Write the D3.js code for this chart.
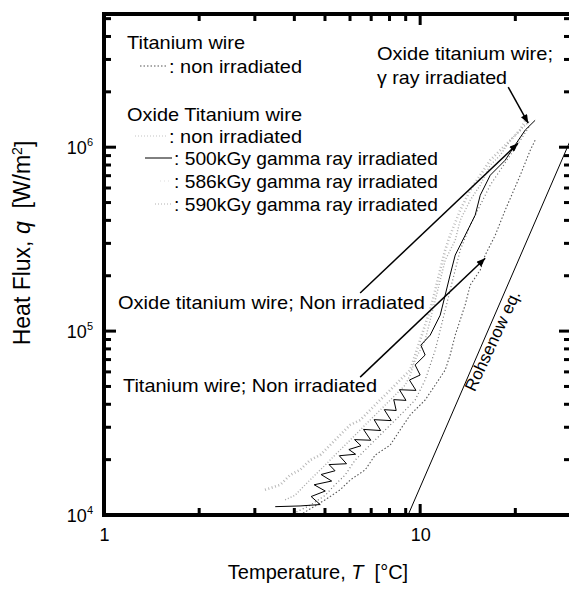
<!DOCTYPE html>
<html>
<head>
<meta charset="utf-8">
<script src="https://cdnjs.cloudflare.com/ajax/libs/d3/7.8.5/d3.min.js"></script>
<style>
body{margin:0;background:#fff;}
svg{display:block;font-family:"Liberation Sans",Arial,sans-serif;}
</style>
</head>
<body>
<svg id="chart"></svg>
<script>
//Data: T [degC], q [W/m2]
const tiNonT  = [4.17, 5.01, 5.58, 6.01, 6.70, 7.21, 8.04, 8.64, 9.30, 10.37, 11.16, 12.0, 12.44, 12.91, 13.88, 14.4, 15.49, 16.06, 17.28, 18.58, 20.73, 22.3, 23.1];
const tiNonQ  = [1.0e4, 1.21e4, 1.37e4, 1.55e4, 1.76e4, 2.12e4, 2.40e4, 2.90e4, 3.50e4, 4.22e4, 5.09e4, 6.14e4, 7.41e4, 9.51e4, 1.39e5, 1.78e5, 2.15e5, 2.59e5, 3.32e5, 4.55e5, 7.04e5, 9.63e5, 1.09e6];

const oxNonT  = [3.23, 3.61, 3.88, 4.17, 4.49, 4.83, 5.19, 5.58, 6.01, 6.46, 6.95, 7.47, 8.04, 8.64, 9.30, 9.64, 10.0, 10.37, 10.76, 11.16, 11.57, 12.0, 12.44, 13.39, 14.4, 15.49, 16.66, 17.92, 19.27, 20.73, 21.5];
const oxNonQ  = [1.37e4, 1.46e4, 1.65e4, 1.76e4, 1.99e4, 2.12e4, 2.40e4, 2.72e4, 3.09e4, 3.28e4, 3.72e4, 4.22e4, 4.78e4, 5.42e4, 6.14e4, 7.41e4, 8.94e4, 1.08e5, 1.30e5, 1.67e5, 2.15e5, 2.76e5, 3.32e5, 4.55e5, 5.84e5, 7.04e5, 8.50e5, 9.63e5, 1.09e6, 1.24e6, 1.40e6];

const ox500T  = [3.48, 4.17, 4.83, 4.52, 5.01, 4.62, 5.25, 4.86, 5.38, 5.15, 5.85, 5.55, 6.25, 5.95, 6.50, 6.20, 6.98, 6.62, 7.50, 7.15, 8.10, 7.70, 8.40, 8.25, 9.02, 8.60, 9.70, 9.25, 10.0, 9.64, 10.37, 10.05, 10.76, 11.57, 12.0, 12.44, 12.91, 13.88, 14.93, 15.49, 16.66, 18.58, 19.99, 21.5, 23.1];
const ox500Q  = [1.11e4, 1.12e4, 1.14e4, 1.26e4, 1.35e4, 1.46e4, 1.53e4, 1.66e4, 1.74e4, 1.88e4, 1.90e4, 2.10e4, 2.14e4, 2.27e4, 2.38e4, 2.57e4, 2.55e4, 2.92e4, 2.88e4, 3.30e4, 3.26e4, 3.74e4, 3.70e4, 4.24e4, 4.20e4, 4.80e4, 4.76e4, 5.42e4, 5.77e4, 6.54e4, 7.41e4, 8.39e4, 9.51e4, 1.22e5, 1.57e5, 2.02e5, 2.59e5, 3.32e5, 4.27e5, 5.48e5, 7.04e5, 8.50e5, 1.03e6, 1.24e6, 1.40e6];

const ox586T  = [3.88, 4.49, 5.01, 5.38, 5.79, 6.23, 6.70, 7.21, 7.75, 8.34, 8.97, 9.64, 10.0, 10.37, 10.76, 11.16, 11.57, 12.0, 12.44, 12.91, 13.39, 14.4, 15.49, 16.66, 17.92, 19.27, 20.73, 22.3];
const ox586Q  = [1.0e4, 1.13e4, 1.28e4, 1.46e4, 1.65e4, 1.99e4, 2.26e4, 2.56e4, 2.90e4, 3.28e4, 3.72e4, 4.22e4, 4.78e4, 5.42e4, 6.54e4, 7.88e4, 1.01e5, 1.30e5, 1.67e5, 2.15e5, 2.76e5, 3.77e5, 4.84e5, 6.22e5, 7.50e5, 9.05e5, 1.09e6, 1.32e6];

const ox590T  = [3.74, 4.02, 4.33, 4.65, 5.01, 5.38, 5.79, 6.23, 6.70, 7.21, 7.75, 8.34, 8.97, 9.30, 9.64, 10.37, 10.76, 11.16, 11.57, 12.0, 12.91, 13.39, 14.4, 15.49, 16.66, 17.92, 19.27, 20.73, 22.3];
const ox590Q  = [1.21e4, 1.28e4, 1.46e4, 1.65e4, 1.87e4, 2.12e4, 2.40e4, 2.72e4, 3.09e4, 3.50e4, 3.96e4, 4.49e4, 5.09e4, 5.77e4, 6.96e4, 8.94e4, 1.15e5, 1.47e5, 1.89e5, 2.43e5, 3.12e5, 4.01e5, 5.15e5, 6.22e5, 7.98e5, 9.05e5, 1.09e6, 1.24e6, 1.40e6];

const rohsenowT = [9.16, 30];
const rohsenowQ = [1.0e4, 1.11e6];

//Tick values
const xMajorTicks = [1, 10];
const xMinorTicks = [2, 3, 4, 5, 6, 7, 8, 9, 20, 30];
const yMajorTicks = [1e4, 1e5, 1e6];
const yMinorTicks = [2e4, 3e4, 4e4, 5e4, 6e4, 7e4, 8e4, 9e4, 2e5, 3e5, 4e5, 5e5, 6e5, 7e5, 8e5, 9e5, 2e6, 3e6, 4e6, 5e6];

//Annotation arrows [T0, q0, T1, q1]
const arrowGamma = [18.99, 2.12e6, 21.97, 1.35e6];
const arrowOxNon = [6.46, 1.61e5, 20.4, 1.05e6];
const arrowTiNon = [6.46, 5.62e4, 16.06, 2.49e5];

//Chart Setup
const w = 569;
const h = 589;
const pLeft = 104, pRight = 571, pTop = 14, pBottom = 515;

const xScale = d3.scaleLog().domain([1, 30]).range([pLeft, pRight]);
const yScale = d3.scaleLog().domain([1e4, 5.3e6]).range([pBottom, pTop]);

const chart = d3.select("#chart").attr("width", w).attr("height", h);

const defs = chart.append("defs");
defs.append("clipPath").attr("id", "plotClip")
    .append("rect").attr("x", pLeft).attr("y", pTop).attr("width", pRight - pLeft).attr("height", pBottom - pTop);
defs.append("marker")
    .attr("id", "head")
    .attr("viewBox", "0 0 10 8")
    .attr("refX", 10).attr("refY", 4)
    .attr("markerWidth", 10).attr("markerHeight", 7)
    .attr("markerUnits", "userSpaceOnUse")
    .attr("orient", "auto")
    .append("path").attr("d", "M0,0 L10,4 L0,8 Z").attr("fill", "#000");

//Series
const line = d3.line().x(d => xScale(d[0])).y(d => yScale(d[1]));
const series = [
  {T: oxNonT, Q: oxNonQ, color: "#b8b8b8", width: 2.6, dash: "1,2.5"},
  {T: ox590T, Q: ox590Q, color: "#a8a8a8", width: 1.4, dash: "1,2"},
  {T: tiNonT, Q: tiNonQ, color: "#555", width: 1.1, dash: "1.5,2"},
  {T: ox586T, Q: ox586Q, color: "#777", width: 1.2, dash: "1,2.5"},
  {T: ox500T, Q: ox500Q, color: "#000", width: 1, dash: null},
  {T: rohsenowT, Q: rohsenowQ, color: "#000", width: 1, dash: null}
];

const plot = chart.append("g").attr("clip-path", "url(#plotClip)");
plot.selectAll(".series")
    .data(series)
    .enter()
    .append("path")
    .classed("series", true)
    .attr("d", s => line(d3.zip(s.T, s.Q)))
    .attr("fill", "none")
    .attr("stroke", s => s.color)
    .attr("stroke-width", s => s.width)
    .attr("stroke-dasharray", s => s.dash)
    .attr("stroke-linejoin", "round");

//Frame
const frame = chart.append("g").attr("fill", "#000");
frame.append("rect").attr("x", pLeft - 2).attr("y", pTop - 2).attr("width", pRight - pLeft + 4).attr("height", 4);
frame.append("rect").attr("x", pLeft - 2).attr("y", pBottom - 2).attr("width", pRight - pLeft + 4).attr("height", 4);
frame.append("rect").attr("x", pLeft - 2).attr("y", pTop - 2).attr("width", 4).attr("height", pBottom - pTop + 4);
frame.append("rect").attr("x", pRight - 2).attr("y", pTop - 2).attr("width", 4).attr("height", pBottom - pTop + 4);

//Tick marks from the scales, pointing inward on all four sides
const tickGroup = chart.append("g").attr("fill", "#000");
function xTicks(values, len){
  tickGroup.selectAll(null).data(values).enter().append("rect")
    .attr("x", d => xScale(d) - 1.5).attr("y", pBottom - len).attr("width", 3).attr("height", len);
  tickGroup.selectAll(null).data(values).enter().append("rect")
    .attr("x", d => xScale(d) - 1.5).attr("y", pTop).attr("width", 3).attr("height", len);
}
function yTicks(values, len){
  tickGroup.selectAll(null).data(values).enter().append("rect")
    .attr("x", pLeft).attr("y", d => yScale(d) - 1.5).attr("width", len).attr("height", 3);
  tickGroup.selectAll(null).data(values).enter().append("rect")
    .attr("x", pRight - len).attr("y", d => yScale(d) - 1.5).attr("width", len).attr("height", 3);
}
xTicks(xMinorTicks, 7);
xTicks(xMajorTicks, 11);
yTicks(yMinorTicks, 7);
yTicks(yMajorTicks, 12);

//Tick labels through d3 axes
chart.append("g").attr("transform", "translate(0," + pBottom + ")")
     .call(d3.axisBottom(xScale).tickValues(xMajorTicks).tickSize(0).tickPadding(13).tickFormat(d3.format("d")))
     .call(g => g.select(".domain").remove())
     .call(g => g.selectAll("text").attr("font-size", 18).attr("fill", "#000").attr("font-family", "Liberation Sans, Arial, sans-serif"));

const yAxis = chart.append("g").attr("transform", "translate(" + pLeft + ",0)")
     .call(d3.axisLeft(yScale).tickValues(yMajorTicks).tickSize(0).tickPadding(11))
     .call(g => g.select(".domain").remove());
yAxis.selectAll(".tick text").each(function(d){
  const t = d3.select(this)
    .attr("dy", "0.35em").attr("font-size", 18).attr("fill", "#000")
    .attr("font-family", "Liberation Sans, Arial, sans-serif");
  t.text("10");
  t.append("tspan").attr("font-size", 11).attr("dy", "-0.75em").text(Math.round(Math.log10(d)));
});

//Axis titles
const xTitle = chart.append("text")
     .attr("x", 318).attr("y", 579)
     .attr("text-anchor", "middle")
     .attr("font-size", 20);
xTitle.append("tspan").text("Temperature, ");
xTitle.append("tspan").attr("font-style", "italic").text("T");
xTitle.append("tspan").text("\u00a0 [°C]");

const yTitle = chart.append("text")
     .attr("transform", "translate(30,243) rotate(-90)")
     .attr("text-anchor", "middle")
     .attr("font-size", 23);
yTitle.append("tspan").text("Heat Flux, ");
yTitle.append("tspan").attr("font-style", "italic").text("q");
yTitle.append("tspan").text("\u00a0 [W/m");
yTitle.append("tspan").attr("font-size", 14).attr("dy", "-0.6em").text("2");
yTitle.append("tspan").attr("dy", "0.45em").text("]");

//Legend
const legendRows = [
  {text: "Titanium wire", x: 127, y: 49, len: 118},
  {text: ": non irradiated", x: 169, y: 73, len: 133, sample: [140, 167], color: "#555", width: 1.1, dash: "1.5,2"},
  {text: "Oxide Titanium wire", x: 127, y: 121, len: 175},
  {text: ": non irradiated", x: 169, y: 143, len: 133, sample: [135, 167], color: "#c4c4c4", width: 1.2, dash: "1,2"},
  {text: ": 500kGy gamma ray irradiated", x: 174, y: 165, len: 264, sample: [145, 172], color: "#000", width: 1, dash: null},
  {text: ": 586kGy gamma ray irradiated", x: 174, y: 188, len: 264, sample: [160, 172], color: "#ddd", width: 1, dash: "1,3"},
  {text: ": 590kGy gamma ray irradiated", x: 174, y: 211, len: 264, sample: [155, 172], color: "#b0b0b0", width: 1, dash: "1,2"}
];
const legend = chart.append("g");
legend.selectAll("text")
      .data(legendRows)
      .enter()
      .append("text")
      .attr("x", d => d.x)
      .attr("y", d => d.y)
      .attr("font-size", 19)
      .attr("textLength", d => d.len)
      .attr("lengthAdjust", "spacingAndGlyphs")
      .text(d => d.text);
legend.selectAll("line")
      .data(legendRows.filter(d => d.sample))
      .enter()
      .append("line")
      .attr("x1", d => d.sample[0]).attr("x2", d => d.sample[1])
      .attr("y1", d => d.y - 7).attr("y2", d => d.y - 7)
      .attr("stroke", d => d.color)
      .attr("stroke-width", d => d.width)
      .attr("stroke-dasharray", d => d.dash);

//Annotations
const notes = [
  {text: "Oxide titanium wire;", x: 377, y: 60, len: 176},
  {text: "\u03b3 ray irradiated", x: 377, y: 84, len: 130},
  {text: "Oxide titanium wire; Non irradiated", x: 118, y: 309, len: 307},
  {text: "Titanium wire; Non irradiated", x: 123, y: 392, len: 254}
];
chart.append("g").selectAll("text")
     .data(notes)
     .enter()
     .append("text")
     .attr("x", d => d.x).attr("y", d => d.y)
     .attr("font-size", 19)
     .attr("textLength", d => d.len)
     .attr("lengthAdjust", "spacingAndGlyphs")
     .text(d => d.text);

chart.append("g").selectAll("line")
     .data([arrowGamma, arrowOxNon, arrowTiNon])
     .enter()
     .append("line")
     .attr("x1", d => xScale(d[0])).attr("y1", d => yScale(d[1]))
     .attr("x2", d => xScale(d[2])).attr("y2", d => yScale(d[3]))
     .attr("stroke", "#000").attr("stroke-width", 1.5)
     .attr("marker-end", "url(#head)");

chart.append("text")
     .attr("transform", "translate(" + xScale(17.6) + "," + yScale(8.6e4) + ") rotate(-65)")
     .attr("text-anchor", "middle")
     .attr("font-size", 17)
     .text("Rohsenow eq.");
</script>
</body>
</html>
